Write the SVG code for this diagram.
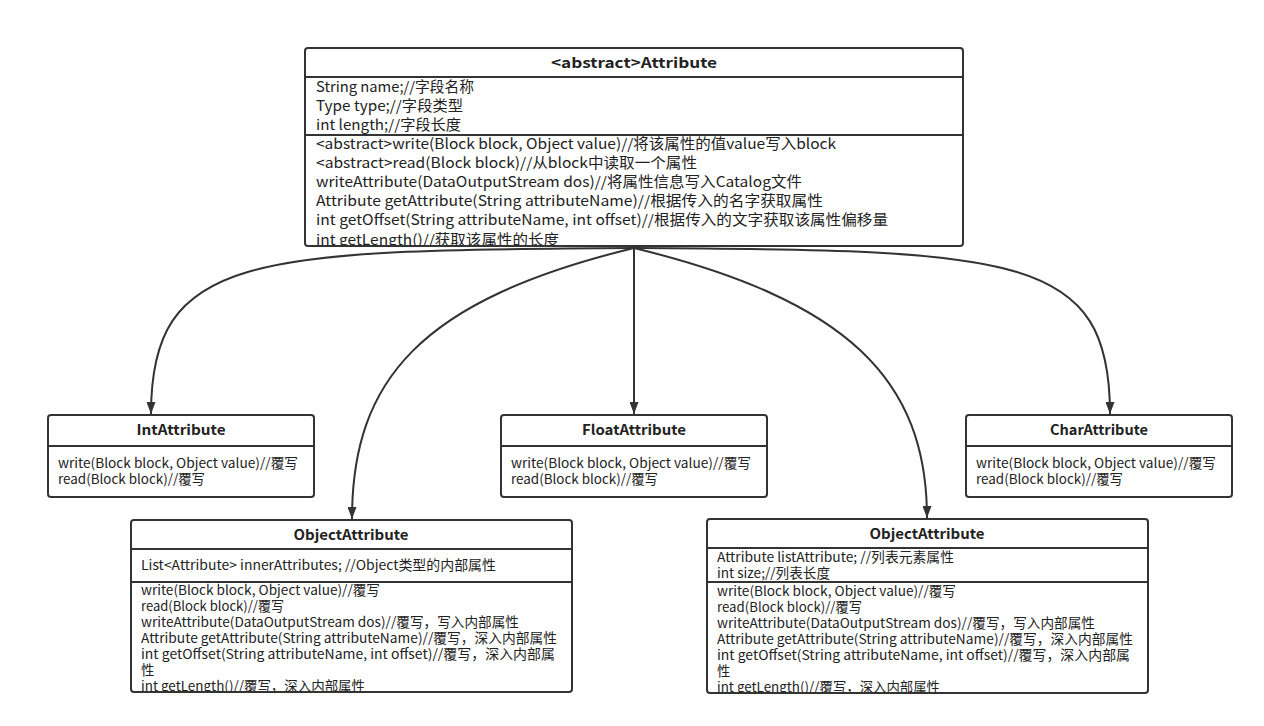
<svg xmlns="http://www.w3.org/2000/svg" width="1264" height="726" viewBox="0 0 1264 726">
<style>
.box{fill:#fff;stroke:#333;stroke-width:2}
.div{stroke:#333;stroke-width:2}
.t{font-family:"Noto Sans CJK SC","Noto Sans",sans-serif;font-size:14.5px;fill:#222}
.s{font-family:"Noto Sans CJK SC","Noto Sans",sans-serif;font-size:13.3px;fill:#222}
.h{font-family:"Noto Sans CJK SC","Noto Sans",sans-serif;font-size:14px;font-weight:bold;fill:#222;text-anchor:middle}
.c{fill:none;stroke:#333;stroke-width:2}
</style>
<defs>
<marker id="a" markerWidth="12" markerHeight="9" refX="12" refY="4.5" orient="auto" markerUnits="userSpaceOnUse" viewBox="0 0 12 9">
<path d="M0,0 L12,4.5 L0,9 Z" fill="#333"/>
</marker>
<clipPath id="cTop"><rect x="305" y="48" width="658" height="197"/></clipPath>
<clipPath id="cOL"><rect x="131" y="520" width="441" height="171"/></clipPath>
<clipPath id="cOR"><rect x="707" y="519" width="441" height="173"/></clipPath>
</defs>
<rect width="1264" height="726" fill="#fff"/>

<g id="connectors">
<path class="c" d="M634,248 C250,250 151,254 151,414" marker-end="url(#a)"/>
<path class="c" d="M634,248 C420,300 352,380 352,519" marker-end="url(#a)"/>
<path class="c" d="M634,248 L634,414" marker-end="url(#a)"/>
<path class="c" d="M634,248 C848,300 927,380 927,518" marker-end="url(#a)"/>
<path class="c" d="M634,248 C1018,250 1110,254 1110,414" marker-end="url(#a)"/>
</g>

<g id="Attribute">
<rect class="box" x="305" y="48" width="658" height="198" rx="3"/>
<line class="div" x1="305" y1="77" x2="963" y2="77"/>
<line class="div" x1="305" y1="135" x2="963" y2="135"/>
<text class="h" x="634" y="68" textLength="166" lengthAdjust="spacingAndGlyphs">&lt;abstract&gt;Attribute</text>
<g clip-path="url(#cTop)" lengthAdjust="spacingAndGlyphs">
<text class="t" x="316" y="92" textLength="158" lengthAdjust="spacingAndGlyphs">String name;//字段名称</text>
<text class="t" x="316" y="111" textLength="147" lengthAdjust="spacingAndGlyphs">Type type;//字段类型</text>
<text class="t" x="316" y="130" textLength="145" lengthAdjust="spacingAndGlyphs">int length;//字段长度</text>
<text class="t" x="316" y="149" textLength="520" lengthAdjust="spacingAndGlyphs">&lt;abstract&gt;write(Block block, Object value)//将该属性的值value写入block</text>
<text class="t" x="316" y="168" textLength="381" lengthAdjust="spacingAndGlyphs">&lt;abstract&gt;read(Block block)//从block中读取一个属性</text>
<text class="t" x="316" y="187" textLength="486" lengthAdjust="spacingAndGlyphs">writeAttribute(DataOutputStream dos)//将属性信息写入Catalog文件</text>
<text class="t" x="316" y="206" textLength="507" lengthAdjust="spacingAndGlyphs">Attribute getAttribute(String attributeName)//根据传入的名字获取属性</text>
<text class="t" x="316" y="225" textLength="572" lengthAdjust="spacingAndGlyphs">int getOffset(String attributeName, int offset)//根据传入的文字获取该属性偏移量</text>
<text class="t" x="316" y="245" textLength="243" lengthAdjust="spacingAndGlyphs">int getLength()//获取该属性的长度</text>
</g>
</g>

<g id="IntAttribute">
<rect class="box" x="48" y="415" width="266" height="82" rx="3"/>
<line class="div" x1="48" y1="446" x2="314" y2="446"/>
<text class="h" x="181" y="435" textLength="89" lengthAdjust="spacingAndGlyphs">IntAttribute</text>
<text class="s" x="58" y="468" textLength="240" lengthAdjust="spacingAndGlyphs">write(Block block, Object value)//覆写</text>
<text class="s" x="58" y="484" textLength="147" lengthAdjust="spacingAndGlyphs">read(Block block)//覆写</text>
</g>

<g id="FloatAttribute">
<rect class="box" x="501" y="415" width="266" height="82" rx="3"/>
<line class="div" x1="501" y1="446" x2="767" y2="446"/>
<text class="h" x="634" y="435" textLength="104" lengthAdjust="spacingAndGlyphs">FloatAttribute</text>
<text class="s" x="511" y="468" textLength="240" lengthAdjust="spacingAndGlyphs">write(Block block, Object value)//覆写</text>
<text class="s" x="511" y="484" textLength="147" lengthAdjust="spacingAndGlyphs">read(Block block)//覆写</text>
</g>

<g id="CharAttribute">
<rect class="box" x="966" y="415" width="266" height="82" rx="3"/>
<line class="div" x1="966" y1="446" x2="1232" y2="446"/>
<text class="h" x="1099" y="435" textLength="98" lengthAdjust="spacingAndGlyphs">CharAttribute</text>
<text class="s" x="976" y="468" textLength="240" lengthAdjust="spacingAndGlyphs">write(Block block, Object value)//覆写</text>
<text class="s" x="976" y="484" textLength="147" lengthAdjust="spacingAndGlyphs">read(Block block)//覆写</text>
</g>

<g id="ObjectAttributeLeft">
<rect class="box" x="131" y="520" width="441" height="172" rx="3"/>
<line class="div" x1="131" y1="549" x2="572" y2="549"/>
<line class="div" x1="131" y1="582" x2="572" y2="582"/>
<text class="h" x="351" y="540" textLength="115" lengthAdjust="spacingAndGlyphs">ObjectAttribute</text>
<text class="s" x="141" y="570" textLength="355" lengthAdjust="spacingAndGlyphs">List&lt;Attribute&gt; innerAttributes; //Object类型的内部属性</text>
<g clip-path="url(#cOL)">
<text class="s" x="141" y="595" textLength="239" lengthAdjust="spacingAndGlyphs">write(Block block, Object value)//覆写</text>
<text class="s" x="141" y="611" textLength="143" lengthAdjust="spacingAndGlyphs">read(Block block)//覆写</text>
<text class="s" x="141" y="627" textLength="378" lengthAdjust="spacingAndGlyphs">writeAttribute(DataOutputStream dos)//覆写，写入内部属性</text>
<text class="s" x="141" y="643" textLength="416" lengthAdjust="spacingAndGlyphs">Attribute getAttribute(String attributeName)//覆写，深入内部属性</text>
<text class="s" x="141" y="659" textLength="414" lengthAdjust="spacingAndGlyphs">int getOffset(String attributeName, int offset)//覆写，深入内部属</text>
<text class="s" x="141" y="675">性</text>
<text class="s" x="141" y="691" textLength="224" lengthAdjust="spacingAndGlyphs">int getLength()//覆写，深入内部属性</text>
</g>
</g>

<g id="ObjectAttributeRight">
<rect class="box" x="707" y="519" width="441" height="174" rx="3"/>
<line class="div" x1="707" y1="548" x2="1148" y2="548"/>
<line class="div" x1="707" y1="582" x2="1148" y2="582"/>
<text class="h" x="927" y="539" textLength="115" lengthAdjust="spacingAndGlyphs">ObjectAttribute</text>
<text class="s" x="717" y="562" textLength="237" lengthAdjust="spacingAndGlyphs">Attribute listAttribute; //列表元素属性</text>
<text class="s" x="717" y="578" textLength="113" lengthAdjust="spacingAndGlyphs">int size;//列表长度</text>
<g clip-path="url(#cOR)">
<text class="s" x="717" y="596" textLength="239" lengthAdjust="spacingAndGlyphs">write(Block block, Object value)//覆写</text>
<text class="s" x="717" y="612" textLength="145" lengthAdjust="spacingAndGlyphs">read(Block block)//覆写</text>
<text class="s" x="717" y="628" textLength="378" lengthAdjust="spacingAndGlyphs">writeAttribute(DataOutputStream dos)//覆写，写入内部属性</text>
<text class="s" x="717" y="644" textLength="416" lengthAdjust="spacingAndGlyphs">Attribute getAttribute(String attributeName)//覆写，深入内部属性</text>
<text class="s" x="717" y="660" textLength="413" lengthAdjust="spacingAndGlyphs">int getOffset(String attributeName, int offset)//覆写，深入内部属</text>
<text class="s" x="717" y="676">性</text>
<text class="s" x="717" y="692" textLength="223" lengthAdjust="spacingAndGlyphs">int getLength()//覆写，深入内部属性</text>
</g>
</g>
</svg>
